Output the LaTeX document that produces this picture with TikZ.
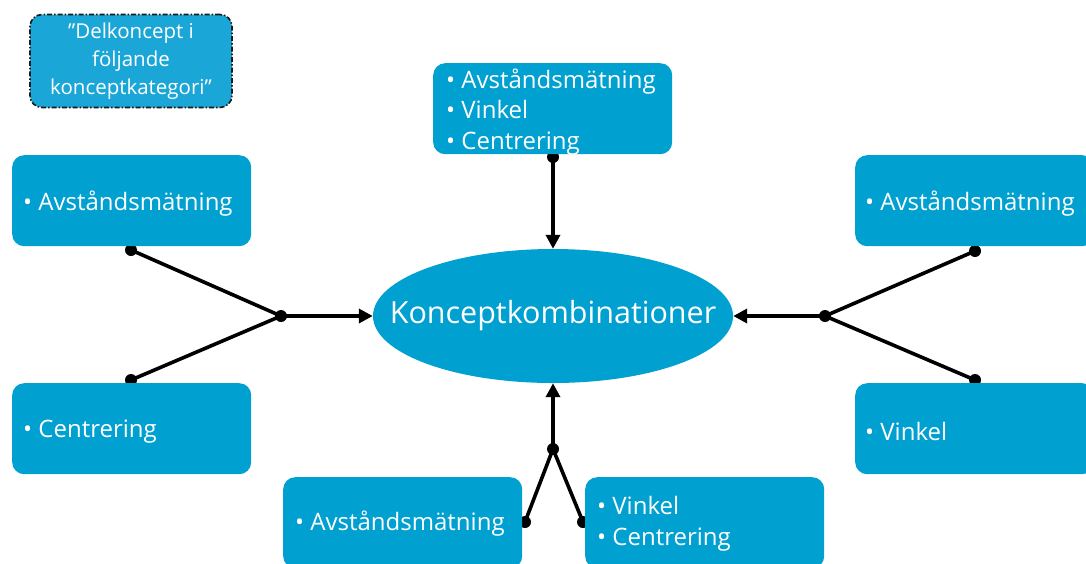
\documentclass[tikz,border=0pt]{standalone}
\usepackage{fontspec}
\setmainfont{Open Sans}
\usetikzlibrary{shapes.geometric,arrows.meta}
\definecolor{boxblue}{RGB}{0,160,209}
\definecolor{notefill}{RGB}{26,167,216}

\begin{document}
\begin{tikzpicture}[x=1pt,y=-1pt,
  item/.style={fill=boxblue, rounded corners=12pt, minimum width=239pt,
    minimum height=91pt, inner sep=0pt, anchor=north west},
  itemtext/.style={anchor=west, inner sep=0pt, align=left, text=white,
    font=\fontsize{24}{30.5}\selectfont},
  note/.style={fill=notefill, draw=black!90, line width=1.6pt,
    dash pattern=on 5pt off 2pt on 1.5pt off 2pt, rounded corners=12pt,
    minimum width=202pt, minimum height=93pt, inner sep=0pt, align=center,
    text=white, font=\fontsize{20.5}{28}\selectfont},
  hub/.style={ellipse, fill=boxblue, minimum width=360pt, minimum height=134pt,
    inner xsep=-40pt, inner ysep=0pt, text=white, font=\fontsize{30.5}{34}\selectfont},
  dot/.style={circle, fill=black, inner sep=0pt, minimum size=12pt},
  link/.style={line width=3.6pt, black},
  arrow/.style={link, -{Triangle[length=14pt,width=14pt]}}
]
\useasboundingbox (0,0) rectangle (1086,563);

% central ellipse
\node[hub] (comb) at (553,316) {Konceptkombinationer};

% connection points and junctions
\node[dot] (lt) at (131,250) {};
\node[dot] (lb) at (131,380) {};
\node[dot] (lj) at (281,316) {};
\node[dot] (rt) at (975,251) {};
\node[dot] (rb) at (975,380) {};
\node[dot] (rj) at (825,316) {};
\node[dot] (tt) at (553,157) {};
\node[dot] (bl) at (525,522) {};
\node[dot] (br) at (583,522) {};
\node[dot] (bj) at (553,449) {};

% connectors
\draw[link] (lt.center) -- (lj.center) -- (lb.center);
\draw[arrow] (lj.center) -- (comb);
\draw[link] (rt.center) -- (rj.center) -- (rb.center);
\draw[arrow] (rj.center) -- (comb);
\draw[arrow] (tt.center) -- (comb);
\draw[link] (bl.center) -- (bj.center) -- (br.center);
\draw[arrow] (bj.center) -- (comb);

% concept boxes
\node[item] (top) at (433,63) {};
\node[item] (ltop) at (12,155) {};
\node[item] (lbot) at (12,383) {};
\node[item] (rtop) at (855,155) {};
\node[item] (rbot) at (855,383) {};
\node[item] (bleft) at (283,477) {};
\node[item] (bright) at (585,477) {};

% box contents
\node[itemtext] (top-t) at ([xshift=13pt,yshift=-3pt]top.west) {\textbullet\ Avståndsmätning\\\textbullet\ Vinkel\\\textbullet\ Centrering};
\node[itemtext] (ltop-t) at ([xshift=11pt,yshift=-3pt]ltop.west) {\textbullet\ Avståndsmätning};
\node[itemtext] (lbot-t) at ([xshift=11pt,yshift=-3pt]lbot.west) {\textbullet\ Centrering};
\node[itemtext] (rtop-t) at ([xshift=10pt,yshift=-3pt]rtop.west) {\textbullet\ Avståndsmätning};
\node[itemtext] (rbot-t) at ([xshift=10pt,yshift=-3pt]rbot.west) {\textbullet\ Vinkel};
\node[itemtext] (bleft-t) at ([xshift=12pt,yshift=-1pt]bleft.west) {\textbullet\ Avståndsmätning};
\node[itemtext] (bright-t) at ([xshift=12pt,yshift=-1pt]bright.west) {\textbullet\ Vinkel\\\textbullet\ Centrering};

% legend note
\node[note] (legend) at (131,61) {”Delkoncept i\\följande\\konceptkategori”};
\end{tikzpicture}
\end{document}
